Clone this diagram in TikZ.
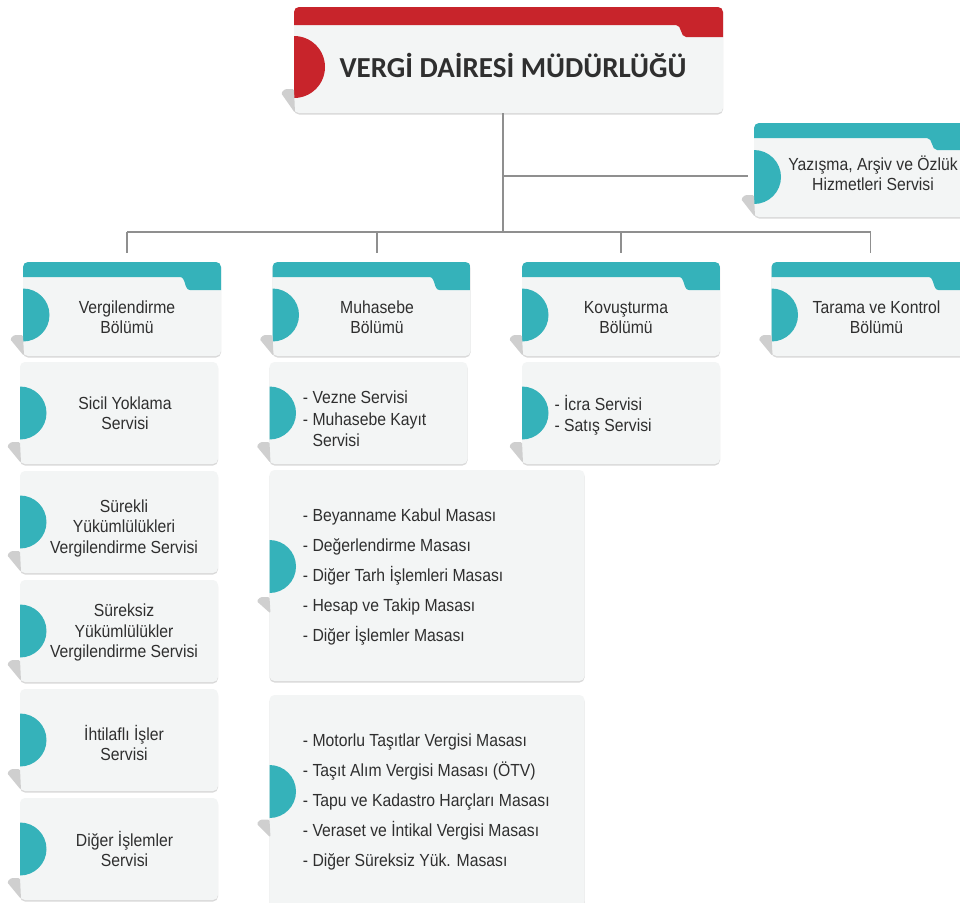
\documentclass[tikz,border=0pt]{standalone}
\usepackage{fontspec}
\newfontfamily\narrowfont{Liberation Sans}[FakeStretch=0.9]
\newfontfamily\titlefont{Carlito}
\usetikzlibrary{positioning,shadows}

\definecolor{vdred}{HTML}{C8242B}
\definecolor{vdteal}{HTML}{35B2BA}
\definecolor{boxgray}{HTML}{F3F5F5}
\definecolor{foldgray}{HTML}{CFCFCF}
\definecolor{shadegray}{HTML}{D9D9D9}
\definecolor{txtgray}{HTML}{2F2F2F}
\definecolor{linegray}{HTML}{8F8F8F}

\tikzset{
  card/.style={rectangle, rounded corners=5pt, fill=boxgray, inner sep=0pt, outer sep=0pt,
    minimum width=198pt, minimum height=102pt,
    drop shadow={shadow xshift=0pt, shadow yshift=-1.5pt, fill=shadegray, opacity=1}},
  bandtab/.style n args={6}{path picture={
      \fill[#1, sharp corners] ([yshift=-#2]path picture bounding box.north west)
        -- (path picture bounding box.north west) -- (path picture bounding box.north east)
        -- ([yshift=-#3]path picture bounding box.north east)
        -- ([xshift=-#4+10pt, yshift=-#3]path picture bounding box.north east)
        .. controls ([xshift=-#4+4pt, yshift=-#3]path picture bounding box.north east)
        and ([xshift=-#4+6pt, yshift=-#2]path picture bounding box.north east)
        .. ([xshift=-#4, yshift=-#2]path picture bounding box.north east) -- cycle;
      \fill[#1] ([yshift=#6]path picture bounding box.west) circle[radius=#5];
  }},
  halfdot/.style n args={3}{path picture={
      \fill[#1] ([yshift=#3]path picture bounding box.west) circle[radius=#2];
  }},
  headcard/.style={card, bandtab={vdred}{18pt}{30pt}{47pt}{31pt}{-7pt}, minimum width=429pt, minimum height=106pt},
  sect/.style={card, bandtab={vdteal}{15pt}{28pt}{41pt}{26.5pt}{-6pt}, minimum height=94pt},
  serv/.style={card, halfdot={vdteal}{26.5pt}{0pt}},
  desk/.style={card, halfdot={vdteal}{26.5pt}{9pt}, minimum width=315pt, minimum height=211pt},
  titletext/.style={font=\titlefont\bfseries\fontsize{29}{31}\selectfont, text=txtgray, inner sep=0pt, anchor=base},
  cardtext/.style={font=\narrowfont\fontsize{17.5}{20}\selectfont, text=txtgray, align=center, inner sep=0pt, anchor=base},
  listtext/.style={font=\narrowfont\fontsize{17.5}{21.7}\selectfont, text=txtgray, align=left, inner sep=0pt, anchor=base west},
  desktext/.style={font=\narrowfont\fontsize{17.5}{30}\selectfont, text=txtgray, align=left, inner sep=0pt, anchor=base west},
  conn/.style={draw=linegray, line width=1.2pt}
}

% folded corner under the left edge of a card
\newcommand{\cardfold}[3]{%
  \fill[foldgray, rounded corners=1.5pt] ([yshift=-#2]#1.west) -- ([xshift=-9pt, yshift=-#2]#1.west)
    -- ([xshift=-13pt, yshift=-#2-4pt]#1.west) -- ([xshift=1pt, yshift=-#2-#3]#1.west) -- cycle;}

\begin{document}
\begin{tikzpicture}[x=1pt, y=-1pt]
  \fill[white] (0,0) rectangle (960,902);
  \useasboundingbox (0,0) rectangle (960,902);
  \clip (0,0) rectangle (960,902);

  % head office
  \node[headcard] (vdm) at (508.5,60) {};
  \cardfold{vdm}{29pt}{24pt}
  \node[titletext] (vdm-t) at (513,77.3) {VERGİ DAİRESİ MÜDÜRLÜĞÜ};

  \node[sect, minimum width=214pt, bandtab={vdteal}{15pt}{27pt}{41pt}{27pt}{-7pt}] (yaz) at (861,170) {};
  \cardfold{yaz}{25pt}{22pt}
  \node[cardtext, font=\narrowfont\fontsize{17.5}{19.5}\selectfont] (yaz-t) at (873,190) {Yazışma, Arşiv ve Özlük\\Hizmetleri Servisi};

  % departments
  \node[sect] (vb) at (122,309) {};
  \node[sect, right=51.5pt of vb] (mb) {};
  \node[sect, right=51.5pt of mb] (kv) {};
  \node[sect, right=51.5pt of kv] (tk) {};
  \cardfold{vb}{26pt}{21pt}
  \cardfold{mb}{26pt}{21pt}
  \cardfold{kv}{26pt}{21pt}
  \cardfold{tk}{26pt}{21pt}
  \node[cardtext] (vb-t) at (127,333.3) {Vergilendirme\\Bölümü};
  \node[cardtext] (mb-t) at (377,333.3) {Muhasebe\\Bölümü};
  \node[cardtext] (kv-t) at (626,333.3) {Kovuşturma\\Bölümü};
  \node[cardtext] (tk-t) at (876.5,333.3) {Tarama ve Kontrol\\Bölümü};

  % services of Vergilendirme
  \node[serv, below=6pt of vb, xshift=-3pt] (sicil) {};
  \node[serv, below=7pt of sicil] (surekli) {};
  \node[serv, below=7pt of surekli] (sureksiz) {};
  \node[serv, below=7pt of sureksiz] (ihtilaf) {};
  \node[serv, below=7pt of ihtilaf] (diger) {};
  \cardfold{sicil}{29pt}{21pt}
  \cardfold{surekli}{29pt}{21pt}
  \cardfold{sureksiz}{29pt}{21pt}
  \cardfold{ihtilaf}{29pt}{21pt}
  \cardfold{diger}{29pt}{21pt}
  \node[cardtext] (sicil-t) at (125,429.3) {Sicil Yoklama\\Servisi};
  \node[cardtext, font=\narrowfont\fontsize{17.5}{20.5}\selectfont] (surekli-t) at (124,553.3) {Sürekli\\Yükümlülükleri\\Vergilendirme Servisi};
  \node[cardtext, font=\narrowfont\fontsize{17.5}{20.5}\selectfont] (sureksiz-t) at (124,657.7) {Süreksiz\\Yükümlülükler\\Vergilendirme Servisi};
  \node[cardtext] (ihtilaf-t) at (124,760) {İhtilaflı İşler\\Servisi};
  \node[cardtext] (diger-t) at (124.5,866.7) {Diğer İşlemler\\Servisi};

  % services of Muhasebe and Kovuşturma
  \node[serv, below=6pt of mb, xshift=-3pt] (mbserv) {};
  \node[serv, below=6pt of kv] (kvserv) {};
  \cardfold{mbserv}{29pt}{21pt}
  \cardfold{kvserv}{29pt}{21pt}
  \node[listtext] (mbserv-t) at (302.7,446.7) {- Vezne Servisi\\- Muhasebe Kayıt\\\hphantom{- }Servisi};
  \node[listtext] (kvserv-t) at (554.3,431.7) {- İcra Servisi\\- Satış Servisi};

  % desks
  \node[desk, below=6pt of mbserv.south west, anchor=north west] (masa1) {};
  \node[desk, below=14pt of masa1] (masa2) {};
  \cardfold{masa1}{21.5pt}{16.5pt}
  \cardfold{masa2}{19pt}{18pt}
  \node[desktext] (masa1-t) at (302.7,641.7) {- Beyanname Kabul Masası\\- Değerlendirme Masası\\- Diğer Tarh İşlemleri Masası\\- Hesap ve Takip Masası\\- Diğer İşlemler Masası};
  \node[desktext] (masa2-t) at (302.7,866) {- Motorlu Taşıtlar Vergisi Masası\\- Taşıt Alım Vergisi Masası (ÖTV)\\- Tapu ve Kadastro Harçları Masası\\- Veraset ve İntikal Vergisi Masası\\- Diğer Süreksiz Yük. Masası};

  % connectors
  \coordinate (j1) at (503,176);
  \coordinate (j2) at (503,232);
  \coordinate (vb-in) at ([xshift=5pt]vb.north);
  \coordinate (mb-in) at ([xshift=5.5pt]mb.north);
  \coordinate (kv-in) at (kv.north);
  \coordinate (tk-in) at (tk.north);
  \draw[conn] (vdm.south -| j2) -- (j2);
  \draw[conn, shorten >=6pt] (j1) -- (j1 -| yaz.west);
  \draw[conn] (vb-in |- j2) -- (tk-in |- j2);
  \draw[conn, shorten >=9pt] (vb-in |- j2) -- (vb-in);
  \draw[conn, shorten >=9pt] (mb-in |- j2) -- (mb-in);
  \draw[conn, shorten >=9pt] (kv-in |- j2) -- (kv-in);
  \draw[conn, shorten >=9pt] (tk-in |- j2) -- (tk-in);
\end{tikzpicture}
\end{document}
